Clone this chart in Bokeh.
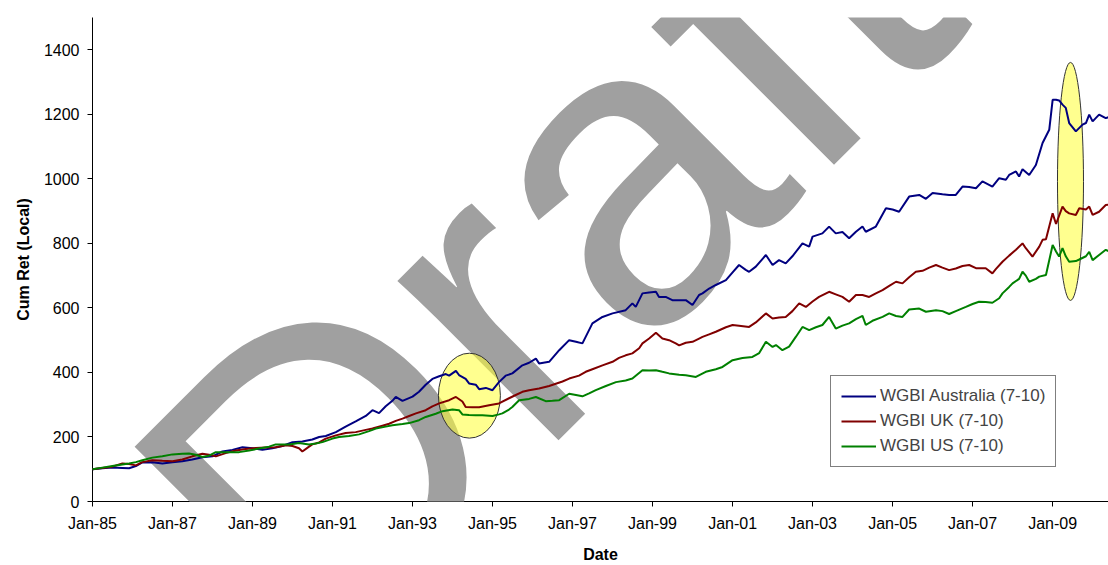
import pandas as pd
from bokeh.plotting import figure
from bokeh.models import (Range1d, FixedTicker, DatetimeTickFormatter, Legend, LegendItem,
                          Label, ColumnDataSource)
from bokeh.embed import file_html
from bokeh.resources import INLINE

START = pd.Timestamp("1985-01-01")

# ---- data: month offset from Jan-85 and cumulative return (local) ----
au_months = [0, 3, 6, 9, 11, 13, 15, 18, 21, 24, 27, 30, 33, 36, 39, 42, 45, 48, 51, 54, 57, 60, 63, 66, 68,
             70, 73, 76, 79, 82, 84, 86, 88, 90, 91, 93, 96, 98, 100, 102, 104, 106, 107, 109, 110, 112, 113,
             115, 116, 118, 120, 122, 124, 126, 129, 131, 133, 134, 137, 140, 143, 145, 147, 150, 153, 156,
             160, 162, 163, 165, 167, 169, 170, 172, 174, 178, 180, 182, 183, 185, 187, 190, 192, 194, 196,
             197, 199, 202, 204, 206, 208, 210, 213, 215, 216, 219, 221, 223, 225, 227, 229, 231, 232, 235,
             238, 240, 242, 245, 248, 250, 252, 255, 257, 259, 261, 263, 265, 267, 270, 272, 274, 275, 277,
             278, 279, 281, 283, 285, 287, 288, 289, 290, 291, 292, 293, 295, 297, 298, 299, 300, 302, 304, 305]
au_vals = [100, 103, 105, 104, 103, 110, 121, 122, 118, 122, 125, 130, 137, 140, 155, 160, 168, 165, 160, 165,
           172, 184, 186, 192, 200, 203, 215, 232, 248, 265, 283, 274, 295, 312, 324, 312, 325, 340, 362, 380,
           388, 395, 390, 405, 392, 380, 366, 362, 348, 352, 345, 370, 390, 397, 422, 430, 443, 428, 433, 469,
           500, 495, 490, 552, 572, 583, 593, 614, 603, 645, 648, 650, 634, 634, 624, 624, 609, 640, 645, 660,
           671, 686, 710, 733, 718, 712, 728, 764, 733, 748, 738, 760, 800, 790, 821, 831, 852, 831, 835, 816,
           836, 852, 836, 852, 909, 905, 898, 945, 950, 938, 956, 952, 950, 950, 976, 975, 971, 992, 976, 1002,
           997, 1012, 1023, 1007, 1030, 1012, 1043, 1111, 1152, 1245, 1245, 1243, 1230, 1220, 1173, 1147, 1168,
           1173, 1199, 1178, 1199, 1188, 1192]

uk_months = [0, 3, 6, 9, 11, 13, 15, 18, 21, 24, 27, 30, 33, 35, 37, 40, 43, 46, 49, 52, 55, 58, 60, 62, 63,
             65, 66, 68, 70, 73, 76, 79, 82, 84, 87, 89, 91, 93, 95, 97, 100, 102, 104, 107, 109, 111, 112, 114,
             116, 119, 122, 125, 127, 129, 131, 134, 137, 139, 141, 143, 146, 148, 150, 153, 156, 158, 160, 162,
             164, 165, 167, 169, 171, 173, 175, 176, 178, 180, 182, 183, 185, 187, 190, 192, 194, 197, 199, 202,
             204, 206, 208, 210, 212, 214, 216, 218, 221, 223, 225, 227, 229, 231, 233, 235, 237, 239, 241, 243,
             245, 247, 249, 251, 253, 255, 257, 259, 261, 263, 265, 268, 270, 271, 273, 275, 277, 279, 280, 282,
             284, 285, 286, 288, 289, 291, 292, 293, 295, 296, 298, 299, 300, 302, 304, 305]
uk_vals = [100, 104, 108, 118, 116, 112, 122, 128, 126, 125, 130, 140, 148, 145, 140, 150, 158, 163, 166, 167,
           168, 174, 172, 165, 155, 170, 177, 183, 195, 205, 212, 215, 222, 226, 235, 241, 250, 257, 265, 273,
           283, 295, 304, 314, 324, 310, 293, 292, 292, 298, 304, 320, 330, 340, 345, 350, 358, 365, 372, 381,
           390, 402, 410, 422, 433, 445, 453, 459, 475, 490, 505, 523, 505, 500, 490, 484, 492, 495, 505, 510,
           518, 526, 540, 547, 545, 541, 555, 583, 567, 570, 572, 590, 614, 603, 620, 634, 650, 642, 634, 619,
           640, 640, 634, 645, 655, 668, 681, 676, 695, 712, 715, 725, 733, 725, 717, 722, 730, 733, 723, 723,
           707, 720, 743, 762, 780, 800, 785, 759, 790, 811, 813, 893, 860, 914, 900, 893, 888, 909, 905, 914,
           888, 898, 919, 920]

us_months = [0, 3, 6, 9, 11, 13, 15, 18, 21, 24, 27, 29, 31, 33, 35, 37, 40, 44, 47, 50, 53, 55, 59, 62, 65,
             67, 69, 72, 74, 77, 80, 83, 85, 88, 90, 93, 95, 98, 100, 103, 105, 108, 110, 111, 113, 115, 117,
             120, 122, 123, 125, 126, 128, 131, 133, 136, 138, 140, 143, 145, 147, 149, 151, 154, 157, 160, 162,
             165, 167, 169, 171, 173, 176, 178, 181, 184, 187, 189, 192, 195, 198, 200, 202, 204, 205, 207, 209,
             211, 213, 215, 217, 219, 221, 223, 225, 227, 229, 231, 232, 234, 237, 239, 241, 243, 245, 248, 250,
             253, 255, 257, 259, 262, 264, 266, 268, 270, 272, 273, 275, 276, 278, 279, 280, 281, 283, 284, 286,
             288, 289, 290, 291, 292, 293, 295, 296, 298, 299, 300, 302, 304, 305]
us_vals = [100, 105, 110, 115, 118, 122, 128, 136, 140, 146, 148, 149, 145, 138, 142, 153, 153, 153, 158, 164,
           170, 177, 177, 181, 177, 180, 184, 195, 200, 203, 208, 218, 226, 232, 236, 240, 243, 252, 262, 272,
           280, 285, 283, 270, 268, 267, 267, 265, 270, 273, 285, 293, 314, 318, 324, 311, 312, 314, 334, 330,
           326, 335, 345, 358, 370, 375, 381, 407, 406, 407, 402, 397, 393, 391, 386, 402, 410, 417, 438, 445,
           448, 460, 495, 479, 485, 469, 480, 510, 541, 531, 540, 547, 572, 536, 545, 552, 565, 575, 547, 560,
           572, 583, 575, 572, 595, 598, 588, 593, 590, 581, 590, 603, 612, 619, 618, 616, 630, 645, 665, 676,
           690, 712, 700, 681, 690, 697, 702, 795, 775, 759, 785, 760, 743, 745, 750, 760, 774, 748, 764, 780,
           775]

series_names = ["WGBI Australia (7-10)", "WGBI UK (7-10)", "WGBI US (7-10)"]
series_colors = ["#000080", "#800000", "#008000"]

y_ticks = [0, 200, 400, 600, 800, 1000, 1200, 1400]
x_tick_years = list(range(1985, 2010, 2))   # Jan-85, Jan-87, ... Jan-09

# highlight ellipses (centre date, centre value)
ellipse_dates = ["1994-06-04", "2009-06-13"]
ellipse_vals = [328, 992]

watermark_text = "Draft"


def to_dates(months):
    return [START + pd.DateOffset(months=m) for m in months]


p = figure(width=1108, height=565, output_backend="svg", toolbar_location=None,
           x_axis_type="datetime",
           x_range=Range1d(START, pd.Timestamp("2010-05-26")),
           y_range=Range1d(0, 1500),
           min_border_left=92, min_border_right=0, min_border_top=17, min_border_bottom=64)
p.outline_line_color = None
p.xgrid.visible = False
p.ygrid.visible = False
p.background_fill_color = "white"
p.border_fill_color = "white"

# watermark
wm = Label(x=pd.Timestamp("1988-01-10"), y=-229, text=watermark_text, angle=45, angle_units="deg",
           text_font="Liberation Sans", text_font_size="429px", text_color="#A0A0A0",
           text_align="left", text_baseline="alphabetic", level="annotation")
p.add_layout(wm)

# ellipses
esrc = ColumnDataSource(dict(x=[pd.Timestamp(d) for d in ellipse_dates], y=ellipse_vals,
                             w=[62, 26], h=[85, 238]))
p.ellipse(x="x", y="y", width="w", height="h", width_units="screen", height_units="screen",
          source=esrc, fill_color="#FFFF33", fill_alpha=0.55, line_color="#333333", line_width=1,
          level="overlay")

renderers = []
for months, vals, color in [(au_months, au_vals, series_colors[0]),
                            (uk_months, uk_vals, series_colors[1]),
                            (us_months, us_vals, series_colors[2])]:
    r = p.line(to_dates(months), vals, line_color=color, line_width=2, level="overlay")
    renderers.append(r)

legend = Legend(items=[LegendItem(label=n, renderers=[r]) for n, r in zip(series_names, renderers)],
                location=(738, 34), border_line_color="black", border_line_width=1,
                background_fill_color="white", background_fill_alpha=1,
                label_text_font="Liberation Sans", label_text_font_size="17px",
                glyph_width=35, glyph_height=20, label_height=20, label_standoff=4,
                padding=10, spacing=5, margin=0)
p.add_layout(legend)

# axes
p.xaxis.ticker = FixedTicker(ticks=[pd.Timestamp(f"{y}-01-01").value / 1e6 for y in x_tick_years])
fmt = "%b-%y"
p.xaxis.formatter = DatetimeTickFormatter(microseconds=fmt, milliseconds=fmt, seconds=fmt, minsec=fmt,
                                          minutes=fmt, hourmin=fmt, hours=fmt, days=fmt, months=fmt,
                                          years=fmt)
p.yaxis.ticker = FixedTicker(ticks=y_ticks)
p.xaxis.axis_label = "Date"
p.yaxis.axis_label = "Cum Ret (Local)"
for ax in (p.xaxis, p.yaxis):
    ax.axis_line_color = "black"
    ax.axis_line_width = 1
    ax.major_tick_line_color = "black"
    ax.major_tick_out = 5
    ax.major_tick_in = 0
    ax.minor_tick_line_color = None
    ax.major_label_text_font = "Liberation Sans"
    ax.major_label_text_font_size = "16px"
    ax.major_label_text_color = "black"
    ax.axis_label_text_font = "Liberation Sans"
    ax.axis_label_text_font_size = "16px"
    ax.axis_label_text_font_style = "bold"
    ax.axis_label_text_color = "black"
p.xaxis.major_label_standoff = 8
p.xaxis.axis_label_standoff = 11
p.yaxis.major_label_standoff = 8
p.yaxis.axis_label_standoff = 9

open("out.html", "w").write(file_html(p, INLINE))
